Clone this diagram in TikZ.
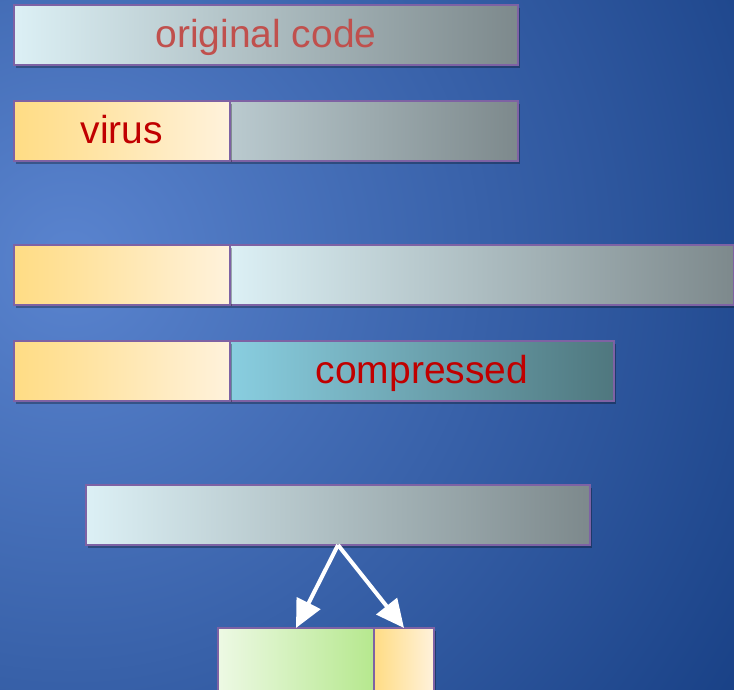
\documentclass[tikz,border=0pt]{standalone}
\usepackage{fontspec}
\setmainfont{Liberation Sans}
\usetikzlibrary{arrows.meta,shadows}
\definecolor{bordc}{HTML}{7E62A4}
\definecolor{grayL}{HTML}{DCF0F5}
\definecolor{grayM}{HTML}{BACACF}
\definecolor{grayR}{HTML}{7D898C}
\definecolor{yelL}{HTML}{FFDC84}
\definecolor{yelR}{HTML}{FFF2DC}
\definecolor{compL}{HTML}{89CEE0}
\definecolor{compR}{HTML}{4F777E}
\definecolor{grnL}{HTML}{EDF9E4}
\definecolor{grnR}{HTML}{B6E88E}
\definecolor{txtA}{HTML}{C0504D}
\definecolor{txtB}{HTML}{C00000}
\definecolor{bgIn}{HTML}{5A84CF}
\definecolor{bgOut}{HTML}{173F84}
\begin{document}
\begin{tikzpicture}[x=1pt,y=-1pt,
  box/.style={draw=bordc, line width=2pt, inner sep=0pt, outer sep=0pt,
    anchor=north west, minimum height=60pt,
    drop shadow={shadow xshift=1.5pt, shadow yshift=-3pt, opacity=0.3, fill=black}},
  graybar/.style={box, left color=grayL, right color=grayR},
  yelbox/.style={box, left color=yelL, right color=yelR, minimum width=216pt},
  lbl/.style={font=\fontsize{39}{40}\selectfont, text height=28pt, text depth=3pt},
  arr/.style={draw=white, line width=4pt, -{Triangle[length=28pt,width=26pt]}}]
\useasboundingbox (0,0) rectangle (734,690);
\begin{scope}
\clip (0,0) rectangle (734,690);
\shade[inner color=bgIn, outer color=bgOut] (70,260) circle (820);
\end{scope}
% row 1
\node[graybar, minimum width=504pt, lbl, text=txtA] (orig) at (14,5) {original code};
% row 2
\node[box, left color=grayM, right color=grayR, minimum width=288pt] (rest2) at (230,101) {};
\node[yelbox, lbl, text=txtB] (virus) at (14,101) {virus};
% row 3
\node[graybar, minimum width=504pt] (body3) at (230,245) {};
\node[yelbox] (vir3) at (14,245) {};
% row 4
\node[box, left color=compL, right color=compR, minimum width=384pt, lbl, text=txtB] (comp) at (230,341) {compressed};
\node[yelbox] (vir4) at (14,341) {};
% row 5
\node[graybar, minimum width=504pt] (bar5) at (86,485) {};
% bottom
\node[box, left color=grnL, right color=grnR, minimum width=156pt, minimum height=66pt] (green) at (218,628) {};
\node[box, left color=yelL, right color=yelR, minimum width=60pt, minimum height=66pt] (orange) at (374,628) {};
\draw[arr] (bar5.south) -- (green.north);
\draw[arr] (bar5.south) -- (orange.north);
\end{tikzpicture}
\end{document}
